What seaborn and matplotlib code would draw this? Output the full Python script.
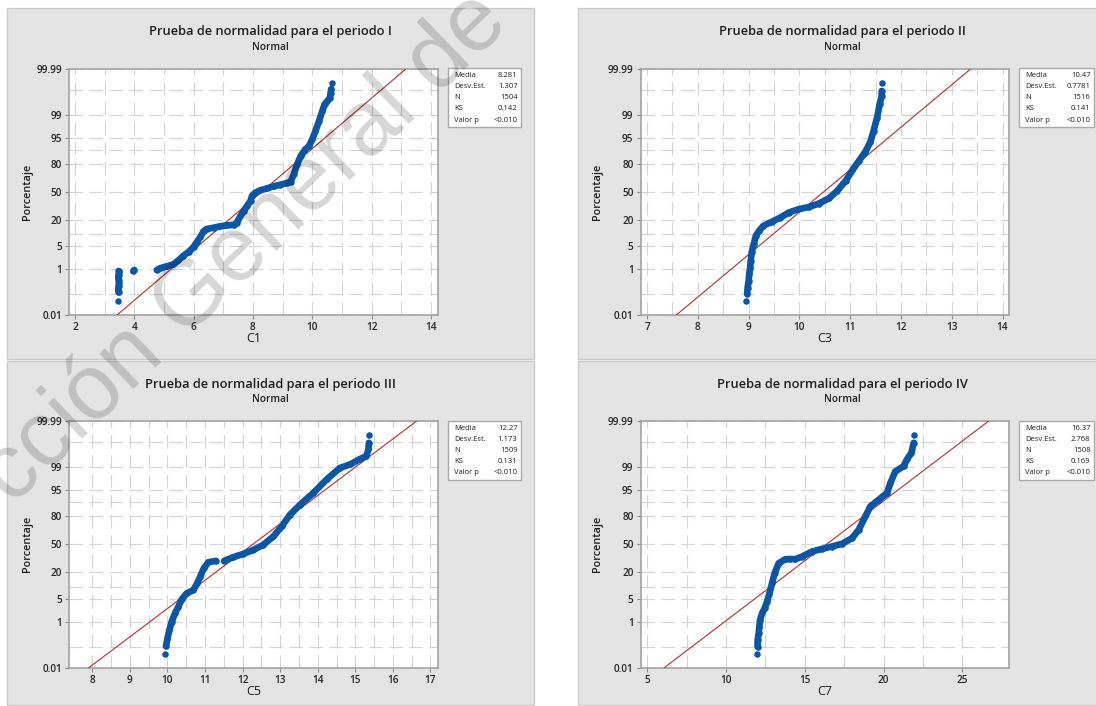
import math
import numpy as np
import pandas as pd
import matplotlib
matplotlib.use("Agg")
import matplotlib.pyplot as plt
import seaborn as sns
from matplotlib.patches import Rectangle

# ---------------- data ----------------
titles = ["Prueba de normalidad para el periodo I", "Prueba de normalidad para el periodo II",
          "Prueba de normalidad para el periodo III", "Prueba de normalidad para el periodo IV"]
xlabels = ["C1", "C3", "C5", "C7"]

stat_names = ["Media", "Desv.Est.", "N", "KS", "Valor p"]
means = [8.281, 10.47, 12.27, 16.37]
sds = [1.307, 0.7781, 1.173, 2.768]
stat_values = [["8.281", "1.307", "1504", "0.142", "<0.010"],
               ["10.47", "0.7781", "1516", "0.141", "<0.010"],
               ["12.27", "1.173", "1509", "0.131", "<0.010"],
               ["16.37", "2.768", "1508", "0.169", "<0.010"]]

# Periodo I
p1_x = [3.46, 3.47, 3.46, 3.47, 3.48, 3.47, 3.46, 3.47, 3.48, 3.47,
        3.97, 4.00,
        4.76, 4.87, 5.10, 5.32, 5.49, 5.66, 5.83, 6.00, 6.11, 6.23, 6.34, 6.45, 6.68, 6.90,
        7.13, 7.35, 7.46, 7.58, 7.69, 7.80, 7.92, 7.97, 8.08, 8.25, 8.48, 8.70, 8.93, 9.15,
        9.27, 9.38, 9.49, 9.61, 9.77, 9.89, 10.00, 10.11, 10.23, 10.34, 10.42, 10.51, 10.60,
        10.62, 10.64,
        10.65]
p1_pct = [0.047, 0.12, 0.16, 0.22, 0.30, 0.40, 0.50, 0.62, 0.75, 0.85,
          0.85, 0.92,
          0.92, 1.06, 1.24, 1.44, 1.95, 2.73, 3.51, 4.85, 6.57, 8.74, 11.98, 13.24, 14.12, 15.06,
          15.77, 16.01, 17.80, 23.6, 28.4, 33.8, 39.5, 45.4, 49.4, 52.2, 54.6, 57.0, 59.0, 60.9,
          62.5, 70.5, 80.0, 86.3, 90.3, 91.9, 94.5, 96.8, 98.44, 99.30, 99.61, 99.71, 99.79,
          99.87, 99.91,
          99.953]
p1_seg = [0] + [1] * 9 + [2] * 2 + [3] * 43 + [4]

# Periodo II
p2_x = [8.95,
        8.97, 8.98, 9.00, 9.01, 9.03, 9.04, 9.06, 9.10, 9.14, 9.20, 9.29, 9.46, 9.62, 9.79,
        9.98, 10.18, 10.38, 10.58, 10.74, 10.91, 11.04, 11.17, 11.30, 11.40, 11.46, 11.53,
        11.58, 11.62, 11.62,
        11.62]
p2_pct = [0.047,
          0.107, 0.19, 0.36, 0.64, 1.1, 1.86, 3.4, 5.7, 9.2, 11.9, 15.4, 18.6, 22.0, 26.8,
          30.2, 32.6, 36.4, 42.6, 51.3, 63.2, 74.5, 82.7, 89.0, 93.7, 96.8, 98.8,
          99.61, 99.82, 99.89,
          99.953]
p2_seg = [0] + [1] * 29 + [2]

# Periodo III
p3_x = [9.94,
        9.96, 10.00, 10.05, 10.11, 10.20, 10.29, 10.38, 10.51, 10.69, 10.79, 10.87, 10.97,
        11.09, 11.29,
        11.51, 11.75, 12.02, 12.29, 12.55, 12.82, 13.04, 13.26, 13.53, 13.88, 14.24, 14.59,
        14.86, 15.13, 15.29, 15.35, 15.36,
        15.37]
p3_pct = [0.047,
          0.107, 0.225, 0.48, 0.97, 1.87, 3.0, 4.85, 6.95, 8.4, 12.0, 16.5, 23.6,
          29.5, 30.9,
          30.9, 34.9, 38.7, 43.4, 49.4, 59.4, 70.5, 81.4, 88.4, 93.9, 97.5, 98.94,
          99.2, 99.5, 99.61, 99.79, 99.89,
          99.953]
p3_seg = [0] + [1] * 14 + [2] * 17 + [3]

# Periodo IV
p4_x = [11.98,
        12.00, 12.00, 12.07, 12.11, 12.15, 12.28, 12.45, 12.60, 12.75, 12.92, 13.08, 13.34,
        13.76, 14.05, 14.39, 14.82, 15.45, 16.09, 16.72, 17.36, 17.99, 18.42, 18.84, 19.16,
        19.69, 20.21, 20.43, 20.74, 21.27, 21.48, 21.76, 21.91,
        21.95]
p4_pct = [0.047,
          0.10, 0.19, 0.36, 0.64, 1.1, 1.86, 2.7, 4.2, 6.9, 12.0, 19.1, 28.4,
          32.7, 32.9, 32.7, 35.6, 41.4, 44.6, 47.4, 50.6, 57.4, 67.0, 80.0, 87.4,
          91.1, 93.9, 96.8, 98.6, 99.08, 99.48, 99.71, 99.89,
          99.953]
p4_seg = [0] + [1] * 32 + [2]

panels_x = [p1_x, p2_x, p3_x, p4_x]
panels_pct = [p1_pct, p2_pct, p3_pct, p4_pct]
panels_seg = [p1_seg, p2_seg, p3_seg, p4_seg]

xlims = [(1.80, 14.24), (6.87, 14.12), (7.38, 17.20), (4.57, 27.93)]
xticks_major = [[2, 4, 6, 8, 10, 12, 14], [7, 8, 9, 10, 11, 12, 13, 14],
                [8, 9, 10, 11, 12, 13, 14, 15, 16, 17], [5, 10, 15, 20, 25]]
xticks_minor = [[3, 5, 7, 9, 11, 13], [7.5, 8.5, 9.5, 10.5, 11.5, 12.5, 13.5],
                [8.5, 9.5, 10.5, 11.5, 12.5, 13.5, 14.5, 15.5, 16.5], [7.5, 12.5, 17.5, 22.5]]
yticks_major = [0.01, 1, 5, 20, 50, 80, 95, 99, 99.99]
ytick_labels = ["0.01", "1", "5", "20", "50", "80", "95", "99", "99.99"]
yticks_minor = [0.1, 10, 90, 99.9]

# ---------------- probability (normal) scale ----------------
_a = [-3.969683028665376e+01, 2.209460984245205e+02, -2.759285104469687e+02,
      1.383577518672690e+02, -3.066479806614716e+01, 2.506628277459239e+00]
_b = [-5.447609879822406e+01, 1.615858368580409e+02, -1.556989798598866e+02,
      6.680131188771972e+01, -1.328068155288572e+01]
_c = [-7.784894002430293e-03, -3.223964580411365e-01, -2.400758277161838e+00,
      -2.549732539343734e+00, 4.374664141464968e+00, 2.938163982698783e+00]
_d = [7.784695709041462e-03, 3.224671290700398e-01, 2.445134137142996e+00,
      3.754408661907416e+00]


def _tail(q):
    num = ((((_c[0] * q + _c[1]) * q + _c[2]) * q + _c[3]) * q + _c[4]) * q + _c[5]
    den = (((_d[0] * q + _d[1]) * q + _d[2]) * q + _d[3]) * q + 1
    return num / den


def pct_to_z(pct):
    arr = np.asarray(pct, dtype=float)
    shape = arr.shape
    p = np.clip(np.atleast_1d(arr).ravel() / 100.0, 1e-12, 1 - 1e-12)
    z = np.empty_like(p)
    plow = 0.02425
    lo = p < plow
    hi = p > 1 - plow
    mid = ~(lo | hi)
    z[lo] = _tail(np.sqrt(-2 * np.log(p[lo])))
    z[hi] = -_tail(np.sqrt(-2 * np.log(1 - p[hi])))
    q = p[mid] - 0.5
    r = q * q
    z[mid] = ((((((_a[0] * r + _a[1]) * r + _a[2]) * r + _a[3]) * r + _a[4]) * r + _a[5]) * q /
              (((((_b[0] * r + _b[1]) * r + _b[2]) * r + _b[3]) * r + _b[4]) * r + 1))
    return z.reshape(shape)


_erf = np.vectorize(math.erf, otypes=[float])


def z_to_pct(z):
    z = np.asarray(z, dtype=float)
    return 100.0 * 0.5 * (1.0 + _erf(z / math.sqrt(2.0)))


# ---------------- figure ----------------
sns.set_theme(style="white")
plt.rcParams["font.family"] = ["Open Sans", "DejaVu Sans"]

W, H = 1096, 706
fig = plt.figure(figsize=(W / 100, H / 100), dpi=100)
fig.patch.set_facecolor("white")


def fx(px):
    return px / W


def fy(py):
    return 1 - py / H


# panel backgrounds (px from top-left)
panel_boxes = [(7, 8, 534, 359), (578, 8, 1110, 359), (7, 361, 534, 705), (578, 361, 1110, 705)]
for (x0, y0, x1, y1) in panel_boxes:
    fig.add_artist(Rectangle((fx(x0), fy(y1)), fx(x1 - x0), (y1 - y0) / H,
                             transform=fig.transFigure, facecolor="#e4e4e4",
                             edgecolor="#cacaca", lw=1.0, zorder=-5))

axes_px = [(69, 69.3, 438, 315), (640.5, 69.3, 1008.6, 315),
           (69, 421, 438, 667.7), (640.5, 421, 1008.6, 667.7)]
title_cx = [270.5, 842, 270.5, 842]
title_y = [32, 32, 384, 384]
sub_y = [47, 47, 399, 399]
xlabel_y = [338, 338, 691.5, 691.5]
ylabel_x = [27.6, 598, 27.6, 598]
box_px = [(448, 68, 521, 127), (1019, 68, 1094, 127), (448, 420.5, 521, 479.5), (1019, 420.5, 1094, 479.5)]

blue = "#0b55a5"
red = "#b0302e"
grid_kw = dict(color="#d3d3d3", lw=0.8, ls=(0, (12, 6)))

for i in range(4):
    x0, y0, x1, y1 = axes_px[i]
    ax = fig.add_axes([fx(x0), fy(y1), fx(x1 - x0), (y1 - y0) / H])
    ax.set_facecolor("white")

    df = pd.DataFrame({"x": panels_x[i], "pct": panels_pct[i], "seg": panels_seg[i]})
    # fitted normal line from the mean and standard deviation
    ends = np.array([0.01, 99.99])
    fit = pd.DataFrame({"x": means[i] + sds[i] * pct_to_z(ends), "pct": ends})
    sns.lineplot(data=fit, x="x", y="pct", ax=ax, color=red, lw=0.8, zorder=3)
    sns.lineplot(data=df, x="x", y="pct", units="seg", estimator=None, sort=False,
                 ax=ax, color=blue, lw=4.8, zorder=4)
    sns.scatterplot(data=df, x="x", y="pct", ax=ax, color=blue, s=22, linewidth=0, zorder=5)

    ax.set_yscale("function", functions=(pct_to_z, z_to_pct))
    ax.set_ylim(0.01, 99.99)
    ax.set_xlim(*xlims[i])
    ax.set_yticks(yticks_major)
    ax.set_yticklabels(ytick_labels)
    ax.set_yticks(yticks_minor, minor=True)
    ax.set_xticks(xticks_major[i])
    ax.set_xticklabels([str(v) for v in xticks_major[i]])
    ax.set_xticks(xticks_minor[i], minor=True)
    ax.grid(True, which="both", **grid_kw)
    ax.set_axisbelow(True)
    ax.tick_params(which="major", axis="both", length=3, width=0.8, color="#8a8a8a",
                   pad=2, labelsize=7.2, labelcolor="#262626", bottom=True, left=True)
    ax.tick_params(which="minor", length=0)
    for lab in ax.get_xticklabels() + ax.get_yticklabels():
        lab.set_fontweight("semibold")
    for sp in ax.spines.values():
        sp.set_color("#a3a3a3")
        sp.set_linewidth(1.2)
    ax.set_xlabel("")
    ax.set_ylabel("")

    # titles and labels
    fig.text(fx(title_cx[i]), fy(title_y[i]), titles[i], ha="center", va="center",
             fontsize=9.3, fontweight="semibold", color="#1e1e1e")
    fig.text(fx(title_cx[i]), fy(sub_y[i]), "Normal", ha="center", va="center",
             fontsize=7.2, fontweight="semibold", color="#1e1e1e")
    fig.text(fx((x0 + x1) / 2), fy(xlabel_y[i]), xlabels[i], ha="center", va="center",
             fontsize=9, color="#1e1e1e")
    fig.text(fx(ylabel_x[i]), fy((y0 + y1) / 2), "Porcentaje", ha="center", va="center",
             rotation=90, fontsize=7.8, fontweight="semibold", color="#1e1e1e")

    # statistics box
    bx0, by0, bx1, by1 = box_px[i]
    fig.add_artist(Rectangle((fx(bx0), fy(by1)), fx(bx1 - bx0), (by1 - by0) / H,
                             transform=fig.transFigure, facecolor="white",
                             edgecolor="#a9a9a9", lw=1.0, zorder=2))
    for r in range(5):
        ry = by0 + 7.7 + r * 11.1
        fig.text(fx(bx0 + 6), fy(ry), stat_names[r], ha="left", va="center",
                 fontsize=5.5, color="#1e1e1e", zorder=3)
        fig.text(fx(bx1 - 3.5), fy(ry), stat_values[i][r], ha="right", va="center",
                 fontsize=5.5, color="#1e1e1e", zorder=3)

# watermark (partly outside the page, as in the reference)
fig.text(fx(245), fy(248), "cción General de", ha="center", va="center", rotation=44,
         fontsize=66, family="Liberation Sans", color="black", alpha=0.16, zorder=100)

fig.savefig("out.png", dpi=100)
